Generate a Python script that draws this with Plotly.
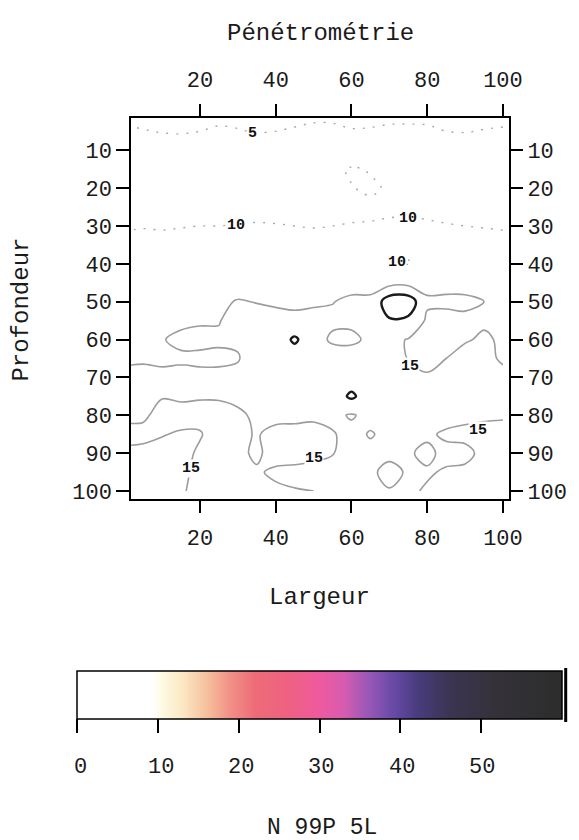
import plotly.graph_objects as go

# ---- data -------------------------------------------------------------
largeur = [0, 5, 10, 15, 20, 25, 30, 35, 40, 45, 50, 55, 60, 65, 70, 75, 80, 85, 90, 95, 100]
profondeur = [0, 5, 10, 15, 20, 25, 30, 35, 40, 45, 50, 55, 60, 65, 70, 75, 80, 85, 90, 95, 100]

# penetrometer readings, one row per depth, one column per width position
penetration = [
    [4.4, 4.2, 4.0, 4.1, 4.3, 4.5, 4.4, 4.2, 4.0, 4.3, 4.5, 4.6, 4.4, 4.2, 4.3, 4.5, 4.6, 4.4, 4.2, 4.1, 4.3],
    [5.3, 5.1, 4.9, 4.8, 5.0, 5.2, 5.1, 4.9, 5.0, 5.2, 5.4, 5.3, 5.1, 5.2, 5.4, 5.3, 5.2, 5.0, 4.9, 5.1, 5.2],
    [6.2, 6.4, 6.1, 6.3, 6.5, 6.6, 6.4, 6.2, 6.5, 6.8, 7.0, 7.2, 7.4, 7.1, 6.8, 6.6, 6.5, 6.4, 6.3, 6.2, 6.1],
    [7.3, 7.5, 7.2, 7.4, 7.6, 7.8, 7.7, 7.5, 7.9, 8.3, 8.8, 9.4, 10.3, 9.8, 9.0, 8.2, 7.8, 7.6, 7.4, 7.3, 7.2],
    [8.2, 8.3, 8.1, 8.4, 8.6, 8.7, 8.5, 8.4, 8.6, 8.9, 9.2, 9.6, 9.9, 10.4, 9.7, 9.2, 8.9, 8.7, 8.5, 8.4, 8.3],
    [9.0, 9.1, 9.0, 9.2, 9.3, 9.4, 9.2, 9.1, 9.3, 9.4, 9.5, 9.6, 9.5, 9.4, 9.6, 9.7, 9.6, 9.4, 9.3, 9.2, 9.1],
    [9.8, 9.9, 9.8, 9.9, 10.0, 10.0, 10.1, 10.2, 10.1, 10.0, 9.9, 10.0, 10.1, 10.2, 10.3, 10.3, 10.2, 10.1, 10.0, 9.9, 9.8],
    [10.5, 10.6, 10.7, 10.8, 10.8, 10.9, 11.0, 11.1, 11.0, 10.9, 10.8, 10.9, 11.0, 10.9, 10.5, 10.4, 10.6, 10.8, 10.9, 10.8, 10.7],
    [11.5, 11.6, 11.7, 11.8, 11.9, 11.9, 11.8, 11.8, 11.9, 12.0, 12.1, 12.2, 12.3, 11.0, 10.1, 9.9, 10.4, 11.5, 11.8, 11.7, 11.6],
    [12.5, 12.6, 12.7, 13.0, 13.4, 13.4, 13.6, 13.6, 13.5, 13.4, 13.3, 13.5, 13.9, 13.8, 13.3, 13.5, 13.8, 14.2, 14.3, 14.2, 14.0],
    [13.3, 13.5, 13.7, 14.0, 14.2, 14.4, 15.2, 14.9, 14.7, 14.5, 14.6, 14.9, 15.6, 15.7, 23.0, 23.0, 15.6, 15.5, 15.4, 15.0, 14.4],
    [13.8, 14.0, 14.3, 14.6, 14.8, 14.9, 15.8, 16.0, 15.7, 15.6, 15.9, 15.6, 15.6, 16.0, 19.5, 19.0, 14.3, 14.2, 14.6, 14.7, 14.6],
    [14.2, 14.3, 14.9, 15.4, 15.5, 15.3, 15.4, 16.5, 16.6, 20.9, 16.3, 14.5, 14.4, 15.6, 16.0, 14.8, 13.8, 14.3, 14.8, 15.3, 14.7],
    [14.6, 14.7, 14.6, 14.7, 14.6, 14.6, 14.8, 16.6, 17.0, 16.8, 16.9, 16.6, 16.5, 16.5, 16.3, 14.9, 14.2, 15.0, 15.8, 15.2, 14.9],
    [15.6, 15.7, 15.5, 15.6, 15.5, 15.5, 15.8, 16.8, 17.1, 16.9, 17.0, 17.2, 17.6, 17.3, 17.0, 15.8, 15.3, 16.0, 16.2, 15.8, 15.2],
    [16.0, 16.2, 15.1, 15.3, 15.2, 15.2, 15.4, 16.0, 16.5, 16.4, 16.6, 17.5, 20.8, 17.5, 17.2, 16.6, 16.4, 16.5, 16.0, 15.6, 15.4],
    [15.4, 15.3, 14.4, 14.3, 14.2, 14.3, 14.7, 15.3, 15.8, 15.9, 15.5, 16.0, 14.6, 16.2, 16.4, 16.3, 16.0, 15.8, 15.4, 15.2, 15.1],
    [14.4, 14.5, 14.9, 15.2, 15.2, 13.8, 14.4, 15.2, 14.2, 13.9, 14.1, 14.7, 16.2, 14.7, 16.0, 15.6, 15.3, 14.7, 14.6, 14.6, 14.7],
    [15.4, 15.5, 15.6, 15.8, 14.6, 13.6, 14.6, 15.3, 14.3, 14.2, 14.5, 14.9, 16.0, 16.0, 15.8, 15.2, 14.6, 15.5, 15.4, 14.6, 14.5],
    [15.8, 16.0, 15.8, 15.6, 14.3, 13.9, 14.5, 14.8, 15.3, 15.5, 15.6, 15.6, 15.8, 15.6, 14.0, 15.4, 15.2, 14.8, 14.7, 14.5, 14.4],
    [15.5, 15.6, 15.5, 15.3, 14.2, 14.1, 14.3, 14.6, 14.7, 14.9, 15.0, 15.1, 15.3, 15.6, 15.2, 15.3, 14.8, 14.6, 14.5, 14.4, 14.3],
]

# contour levels and where their values are written on the map
faint_levels = [5, 10]
main_level = 15
peak_level = 20
label_levels = [5, 10, 10, 10, 15, 15, 15, 15]
label_x = [34, 29.5, 75, 72, 75.5, 93.4, 50, 17.6]
label_y = [5.6, 30, 28, 39.6, 67, 84, 91.5, 94]

x_ticks = [20, 40, 60, 80, 100]
y_ticks = [10, 20, 30, 40, 50, 60, 70, 80, 90, 100]
scale_ticks = [0, 10, 20, 30, 40, 50]
scale_min, scale_max = 0, 60

# ---- page geometry (pixels) ------------------------------------------
W, H = 579, 840
PL, PR, PT, PB = 131, 511, 118, 499
FONT = "Liberation Mono"


def fx(p):
    return (p - PL) / (PR - PL)


def fy(p):
    return (PB - p) / (PB - PT)


palette = [
    [0.0, "#ffffff"], [0.155, "#ffffff"], [0.175, "#fdfae4"],
    [0.217, "#fbe9c4"], [0.267, "#f6c09e"], [0.317, "#f19086"],
    [0.367, "#ee6c78"], [0.433, "#ee6180"], [0.5, "#ef5a9e"],
    [0.55, "#d65cb0"], [0.6, "#9a58b8"], [0.65, "#6a4aa8"],
    [0.7, "#4a3c80"], [0.767, "#3b3552"], [0.867, "#343238"],
    [1.0, "#2c2c2c"],
]

fig = go.Figure()

fig.add_trace(go.Contour(
    x=largeur, y=profondeur, z=penetration,
    autocontour=False,
    contours=dict(start=faint_levels[0], end=faint_levels[-1],
                  size=faint_levels[1] - faint_levels[0], coloring="none"),
    line=dict(color="#a8a8a8", width=1.4, dash="2px,8px", smoothing=1),
    showscale=False, hoverinfo="skip",
))
fig.add_trace(go.Contour(
    x=largeur, y=profondeur, z=penetration,
    autocontour=False,
    contours=dict(start=main_level, end=main_level, size=1, coloring="none"),
    line=dict(color="#9c9c9c", width=1.6, smoothing=1),
    showscale=False, hoverinfo="skip",
))
fig.add_trace(go.Contour(
    x=largeur, y=profondeur, z=penetration,
    autocontour=False,
    contours=dict(start=peak_level, end=peak_level, size=1, coloring="none"),
    line=dict(color="#1a1a1a", width=2.4, smoothing=1),
    showscale=False, hoverinfo="skip",
))

# colour scale of the readings
fig.add_trace(go.Scatter(
    x=[None], y=[None], mode="markers", showlegend=False, hoverinfo="skip",
    marker=dict(
        color=[scale_min], colorscale=palette, cmin=scale_min, cmax=scale_max,
        showscale=True,
        colorbar=dict(
            orientation="h", x=fx(320.5), xanchor="center",
            y=fy(671), yanchor="top", len=485, lenmode="pixels",
            thickness=48, thicknessmode="pixels", xpad=0, ypad=0,
            outlinewidth=1.5, outlinecolor="black",
            ticks="outside", ticklen=14, tickwidth=1.5, tickcolor="black",
            tickvals=scale_ticks, showticklabels=False,
        ),
    ),
))

# companion trace so the top and right axes are drawn
fig.add_trace(go.Scatter(x=[None], y=[None], xaxis="x2", yaxis="y2",
                         showlegend=False, hoverinfo="skip"))

axis_font = dict(family=FONT, size=22, color="#1a1a1a")
x_range = [1.8, 101.6]
y_range = [102.1, 1.5]

fig.update_layout(
    width=W, height=H,
    margin=dict(l=PL, r=W - PR, t=PT, b=H - PB),
    paper_bgcolor="white", plot_bgcolor="white",
    showlegend=False,
    font=dict(family=FONT, color="#1a1a1a"),
    xaxis=dict(range=x_range, tickvals=x_ticks, ticks="outside", ticklen=12,
               tickwidth=1.5, tickcolor="black", showline=True, linecolor="black",
               linewidth=1.5, mirror=True, showgrid=False, zeroline=False,
               tickfont=axis_font, ticklabelstandoff=6),
    xaxis2=dict(range=x_range, overlaying="x", side="top", anchor="y",
                tickvals=x_ticks, ticks="outside", ticklen=13, tickwidth=1.5,
                tickcolor="black", showline=False, showgrid=False, zeroline=False,
                tickfont=axis_font, ticklabelstandoff=8),
    yaxis=dict(range=y_range, tickvals=y_ticks, ticks="outside", ticklen=13,
               tickwidth=1.5, tickcolor="black", showline=True, linecolor="black",
               linewidth=1.5, mirror=True, showgrid=False, zeroline=False,
               tickfont=axis_font),
    yaxis2=dict(range=y_range, overlaying="y", side="right", anchor="x",
                tickvals=y_ticks, ticks="outside", ticklen=13, tickwidth=1.5,
                tickcolor="black", showline=False, showgrid=False, zeroline=False,
                tickfont=axis_font),
)

annotations = []
for lv, lx, ly in zip(label_levels, label_x, label_y):
    annotations.append(dict(
        x=lx, y=ly, xref="x", yref="y", text=str(lv), showarrow=False,
        xanchor="center", yanchor="middle",
        font=dict(family=FONT, size=15, color="#111111", weight="bold"),
        bgcolor="white", borderpad=0,
    ))


def page_text(text, px, py, size, angle=0):
    return dict(x=fx(px), y=fy(py), xref="paper", yref="paper", text=text,
                showarrow=False, xanchor="center", yanchor="middle",
                textangle=angle, font=dict(family=FONT, size=size))


annotations.append(page_text("Pénétrométrie", 322, 33, 24))
annotations.append(page_text("Largeur", 320, 597, 24))
annotations.append(page_text("Profondeur", 20, 310, 24, angle=-90))
annotations.append(page_text("N 99P 5L", 323, 828, 23))

cb_left, cb_len = 78, 485
for v in scale_ticks:
    px = cb_left + 2 + (v - scale_min) / (scale_max - scale_min) * cb_len
    annotations.append(page_text(str(v), px, 767, 22))

fig.update_layout(annotations=annotations)

# end marker to the right of the colour scale
fig.add_shape(type="line", xref="paper", yref="paper",
              x0=fx(568), x1=fx(568), y0=fy(668), y1=fy(722),
              line=dict(color="black", width=3))

fig.write_html("out.html")
